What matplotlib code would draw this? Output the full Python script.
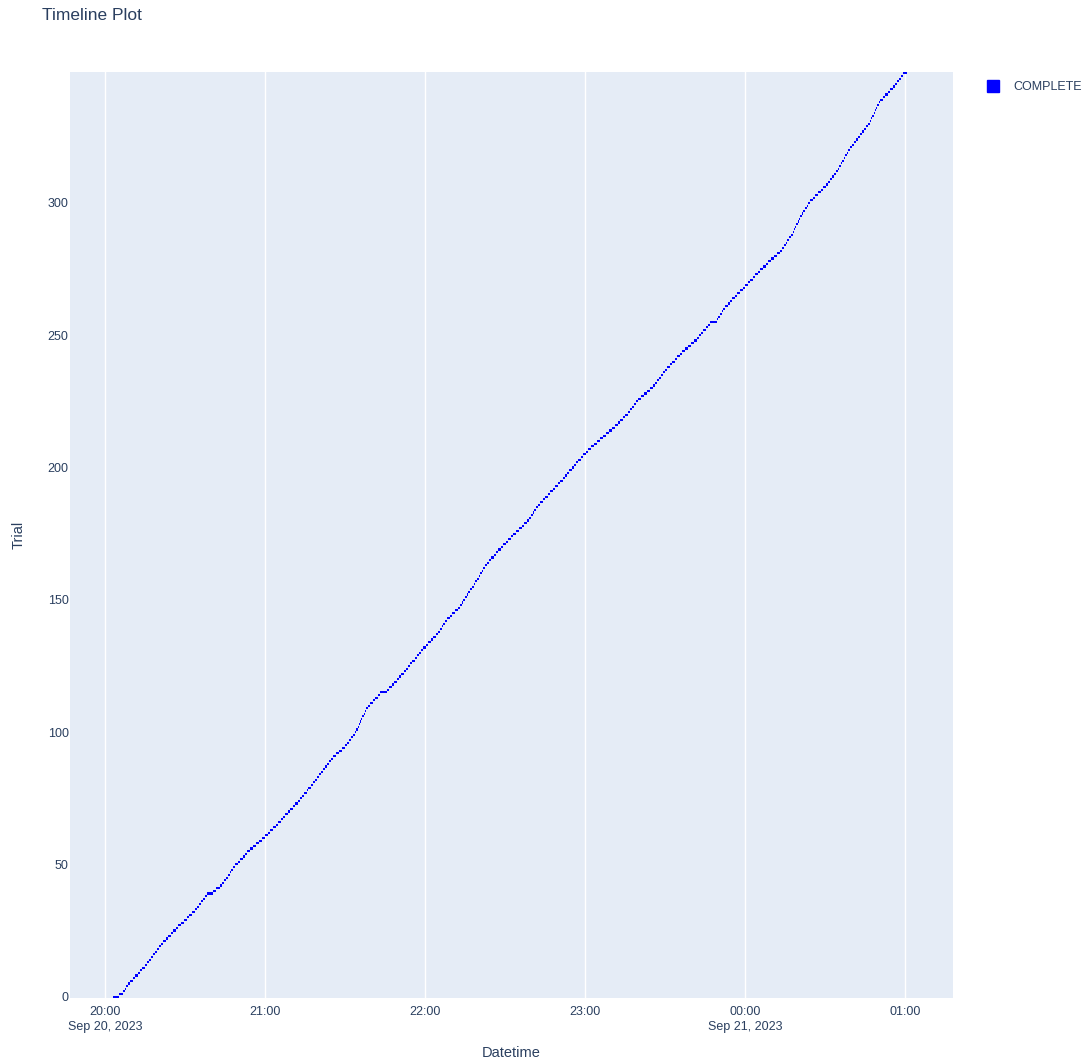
import datetime as dt
import numpy as np
import matplotlib
matplotlib.use("Agg")
import matplotlib.pyplot as plt
import matplotlib.dates as mdates
from matplotlib.lines import Line2D

# =========================
# STEP 1: Trial data
# =========================
first_start = dt.datetime(2023, 9, 20, 20, 3, 0)

# duration of every trial in seconds (trials run one after another)
durations = [
    130, 85, 45, 40, 36,
    50, 58, 46, 62, 55, 48, 60, 53,
    42, 48, 40, 52, 44, 46, 38, 50,
    70, 50, 58, 52, 48, 58,
    62, 75, 60, 58, 66, 63,
    48, 40, 46, 52, 42, 42,
    140, 70, 78,
    55, 40, 38, 44, 42, 36, 45, 42,
    60, 52, 58, 55, 50, 61,
    68, 62, 72, 66, 68,
    58, 62, 56, 60, 54, 60, 58,
    52, 58, 50, 56, 54, 60, 48,
    46, 52, 50, 44, 48, 54, 48,
    44, 48, 40, 46, 42, 50, 44, 46, 42,
    72, 64, 68, 66,
    48, 44, 46, 42, 48,
    30, 26, 24, 28, 25, 30, 27, 26, 30,
    42, 48, 55, 52, 60, 55,
    150, 58, 62, 54, 60,
    50, 46, 52, 48, 50, 48,
    48, 52, 46, 50, 48, 50,
    60, 54, 58, 56, 60,
    40, 44, 42, 40, 46, 40,
    58, 60, 54, 62, 54,
    40, 36, 38, 42, 36, 36,
    40, 38, 42, 36,
    36, 34, 38, 36, 36,
    46, 50, 48, 52, 48, 50,
    58, 52, 60, 54, 56, 56,
    70, 60, 62, 58, 68,
    44, 40, 42, 38, 44, 40, 40,
    60, 56, 62, 58, 58,
    54, 52, 56, 54, 54,
    50, 48, 52, 46, 50, 48,
    56, 54, 58, 54,
    66, 72, 64, 70, 70,
    66, 70, 64, 70,
    56, 60, 58, 56, 58,
    46, 44, 48, 44, 46,
    70, 66, 68, 64, 68,
    44, 46, 42, 48, 44, 46,
    56, 54, 58, 52, 56, 54, 54,
    66, 70, 64, 68, 68,
    48, 52, 46, 50, 48, 50,
    150, 36, 38, 36, 40, 36,
    58, 54, 56, 56, 54, 58,
    60, 58, 60, 56, 60,
    56, 58, 54, 56, 58, 54,
    68, 66, 70, 66,
    44, 40, 42, 44, 40, 42, 42,
    28, 24, 26, 28, 24, 26,
    36, 40, 38, 36, 40, 38,
    62, 58, 60, 62, 58, 60,
    46, 44, 46, 44, 46, 44,
    32, 30, 34, 32, 30, 34, 30,
    46, 44, 46, 44, 46, 44,
    46, 44, 48, 44, 46,
    28, 26, 30, 26, 28, 28, 26, 30,
    60, 56, 62, 58, 58,
    46, 44, 48, 44, 46,
    80,
]
trials = np.arange(len(durations))

tick_times = [dt.datetime(2023, 9, 20, 20, 0) + dt.timedelta(hours=h) for h in range(6)]
tick_labels = ["20:00\nSep 20, 2023", "21:00", "22:00", "23:00",
               "00:00\nSep 21, 2023", "01:00"]

# =========================
# STEP 2: Start times
# =========================
dur_days = np.array(durations) / 86400.0
offsets = np.concatenate([[0.0], np.cumsum(dur_days)[:-1]])
starts = mdates.date2num(first_start) + offsets

# =========================
# STEP 3: Plot
# =========================
plt.rcParams['font.family'] = ['Liberation Sans', 'DejaVu Sans']
text_color = "#2a3f5f"

fig = plt.figure(figsize=(10.88, 10.61), dpi=100)
ax = fig.add_axes([70 / 1088, 63 / 1061, 883 / 1088, 926 / 1061])
ax.set_facecolor("#E5ECF6")

ax.barh(trials, dur_days, left=starts, height=0.8, color="#0000ff",
        linewidth=0, zorder=3)

x_left = mdates.date2num(dt.datetime(2023, 9, 20, 19, 46, 52))
x_right = mdates.date2num(dt.datetime(2023, 9, 21, 1, 18, 0))
ax.set_xlim(x_left, x_right)
ax.set_ylim(-0.5, len(durations) - 0.5)

ax.set_xticks(mdates.date2num(tick_times))
ax.set_xticklabels(tick_labels, linespacing=1.25)
ax.set_yticks([0, 50, 100, 150, 200, 250, 300])
ax.tick_params(length=0, labelsize=9, colors=text_color)
ax.tick_params(axis='x', pad=6)
ax.tick_params(axis='y', pad=1)
ax.grid(axis='x', color='white', linewidth=1.0, zorder=0)
ax.set_axisbelow(True)
for spine in ax.spines.values():
    spine.set_visible(False)

ax.set_xlabel("Datetime", fontsize=10.5, color=text_color, labelpad=10)
ax.set_ylabel("Trial", fontsize=10.5, color=text_color, labelpad=16)
fig.text(42 / 1088, 1 - 15 / 1061, "Timeline Plot", fontsize=12.5,
         color=text_color, va='center', ha='left')

handle = Line2D([], [], marker='s', linestyle='none', color="#0000ff",
                markersize=9)
fig.legend([handle], ["COMPLETE"], loc='center left',
           bbox_to_anchor=(980 / 1088, 1 - 87 / 1061), frameon=False,
           fontsize=9, labelcolor=text_color, handletextpad=0.7,
           borderaxespad=0, borderpad=0)

fig.savefig("out.png", dpi=100, facecolor="white")
